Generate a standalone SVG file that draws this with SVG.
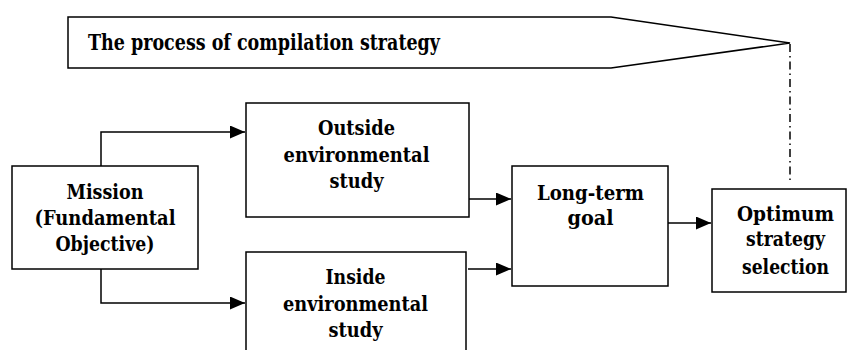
<svg xmlns="http://www.w3.org/2000/svg" width="847" height="350" viewBox="0 0 847 350">
<style>
.box{fill:#fff;stroke:#000;stroke-width:1.5}
text{font-family:'DejaVu Serif','Liberation Serif','Times New Roman',serif;font-weight:bold;font-size:21px;text-anchor:middle;fill:#000}
.c{fill:none;stroke:#000;stroke-width:1.5}
</style>
<defs>
<marker id="ah" markerWidth="15" markerHeight="13" refX="15" refY="6.5" orient="auto" markerUnits="userSpaceOnUse">
<path d="M0,0 L15,6.5 L0,13 Z" fill="#000"/>
</marker>
</defs>
<g id="process">
<path class="box" d="M68,17 L611,17 L790,43 L611,68 L68,68 Z"/>
<text x="88" y="50" style="text-anchor:start;font-size:22px" textLength="352" lengthAdjust="spacingAndGlyphs">The process of compilation strategy</text>
</g>
<g id="mission">
<rect class="box" x="12" y="166" width="186" height="103"/>
<text x="105" y="199" textLength="77" lengthAdjust="spacingAndGlyphs">Mission</text>
<text x="105" y="225" textLength="141" lengthAdjust="spacingAndGlyphs">(Fundamental</text>
<text x="105" y="251" textLength="99" lengthAdjust="spacingAndGlyphs">Objective)</text>
</g>
<g id="outside">
<rect class="box" x="246" y="103" width="223" height="114"/>
<text x="356.5" y="135" textLength="77" lengthAdjust="spacingAndGlyphs">Outside</text>
<text x="356.5" y="162" textLength="146" lengthAdjust="spacingAndGlyphs">environmental</text>
<text x="356.5" y="188" textLength="54" lengthAdjust="spacingAndGlyphs">study</text>
</g>
<g id="inside">
<rect class="box" x="246" y="252" width="220" height="110"/>
<text x="355.5" y="284" textLength="60" lengthAdjust="spacingAndGlyphs">Inside</text>
<text x="355.5" y="311" textLength="145" lengthAdjust="spacingAndGlyphs">environmental</text>
<text x="355.5" y="337" textLength="54" lengthAdjust="spacingAndGlyphs">study</text>
</g>
<g id="longterm">
<rect class="box" x="512" y="166" width="156" height="120"/>
<text x="590.5" y="200" textLength="107" lengthAdjust="spacingAndGlyphs">Long-term</text>
<text x="590.5" y="225" textLength="46" lengthAdjust="spacingAndGlyphs">goal</text>
</g>
<g id="optimum">
<rect class="box" x="712" y="189" width="134" height="103"/>
<text x="785.5" y="221" textLength="97" lengthAdjust="spacingAndGlyphs">Optimum</text>
<text x="785.5" y="246" textLength="79" lengthAdjust="spacingAndGlyphs">strategy</text>
<text x="785.5" y="274" textLength="87" lengthAdjust="spacingAndGlyphs">selection</text>
</g>
<g id="connectors">
<path class="c" d="M101,166 V132 H245" marker-end="url(#ah)"/>
<path class="c" d="M101,269 V303 H245" marker-end="url(#ah)"/>
<path class="c" d="M469,199 H511" marker-end="url(#ah)"/>
<path class="c" d="M468,269 H511" marker-end="url(#ah)"/>
<path class="c" d="M668,223 H711" marker-end="url(#ah)"/>
<path class="c" d="M790,44 V180" stroke-dasharray="8,4,1.5,4"/>
</g>
</svg>
